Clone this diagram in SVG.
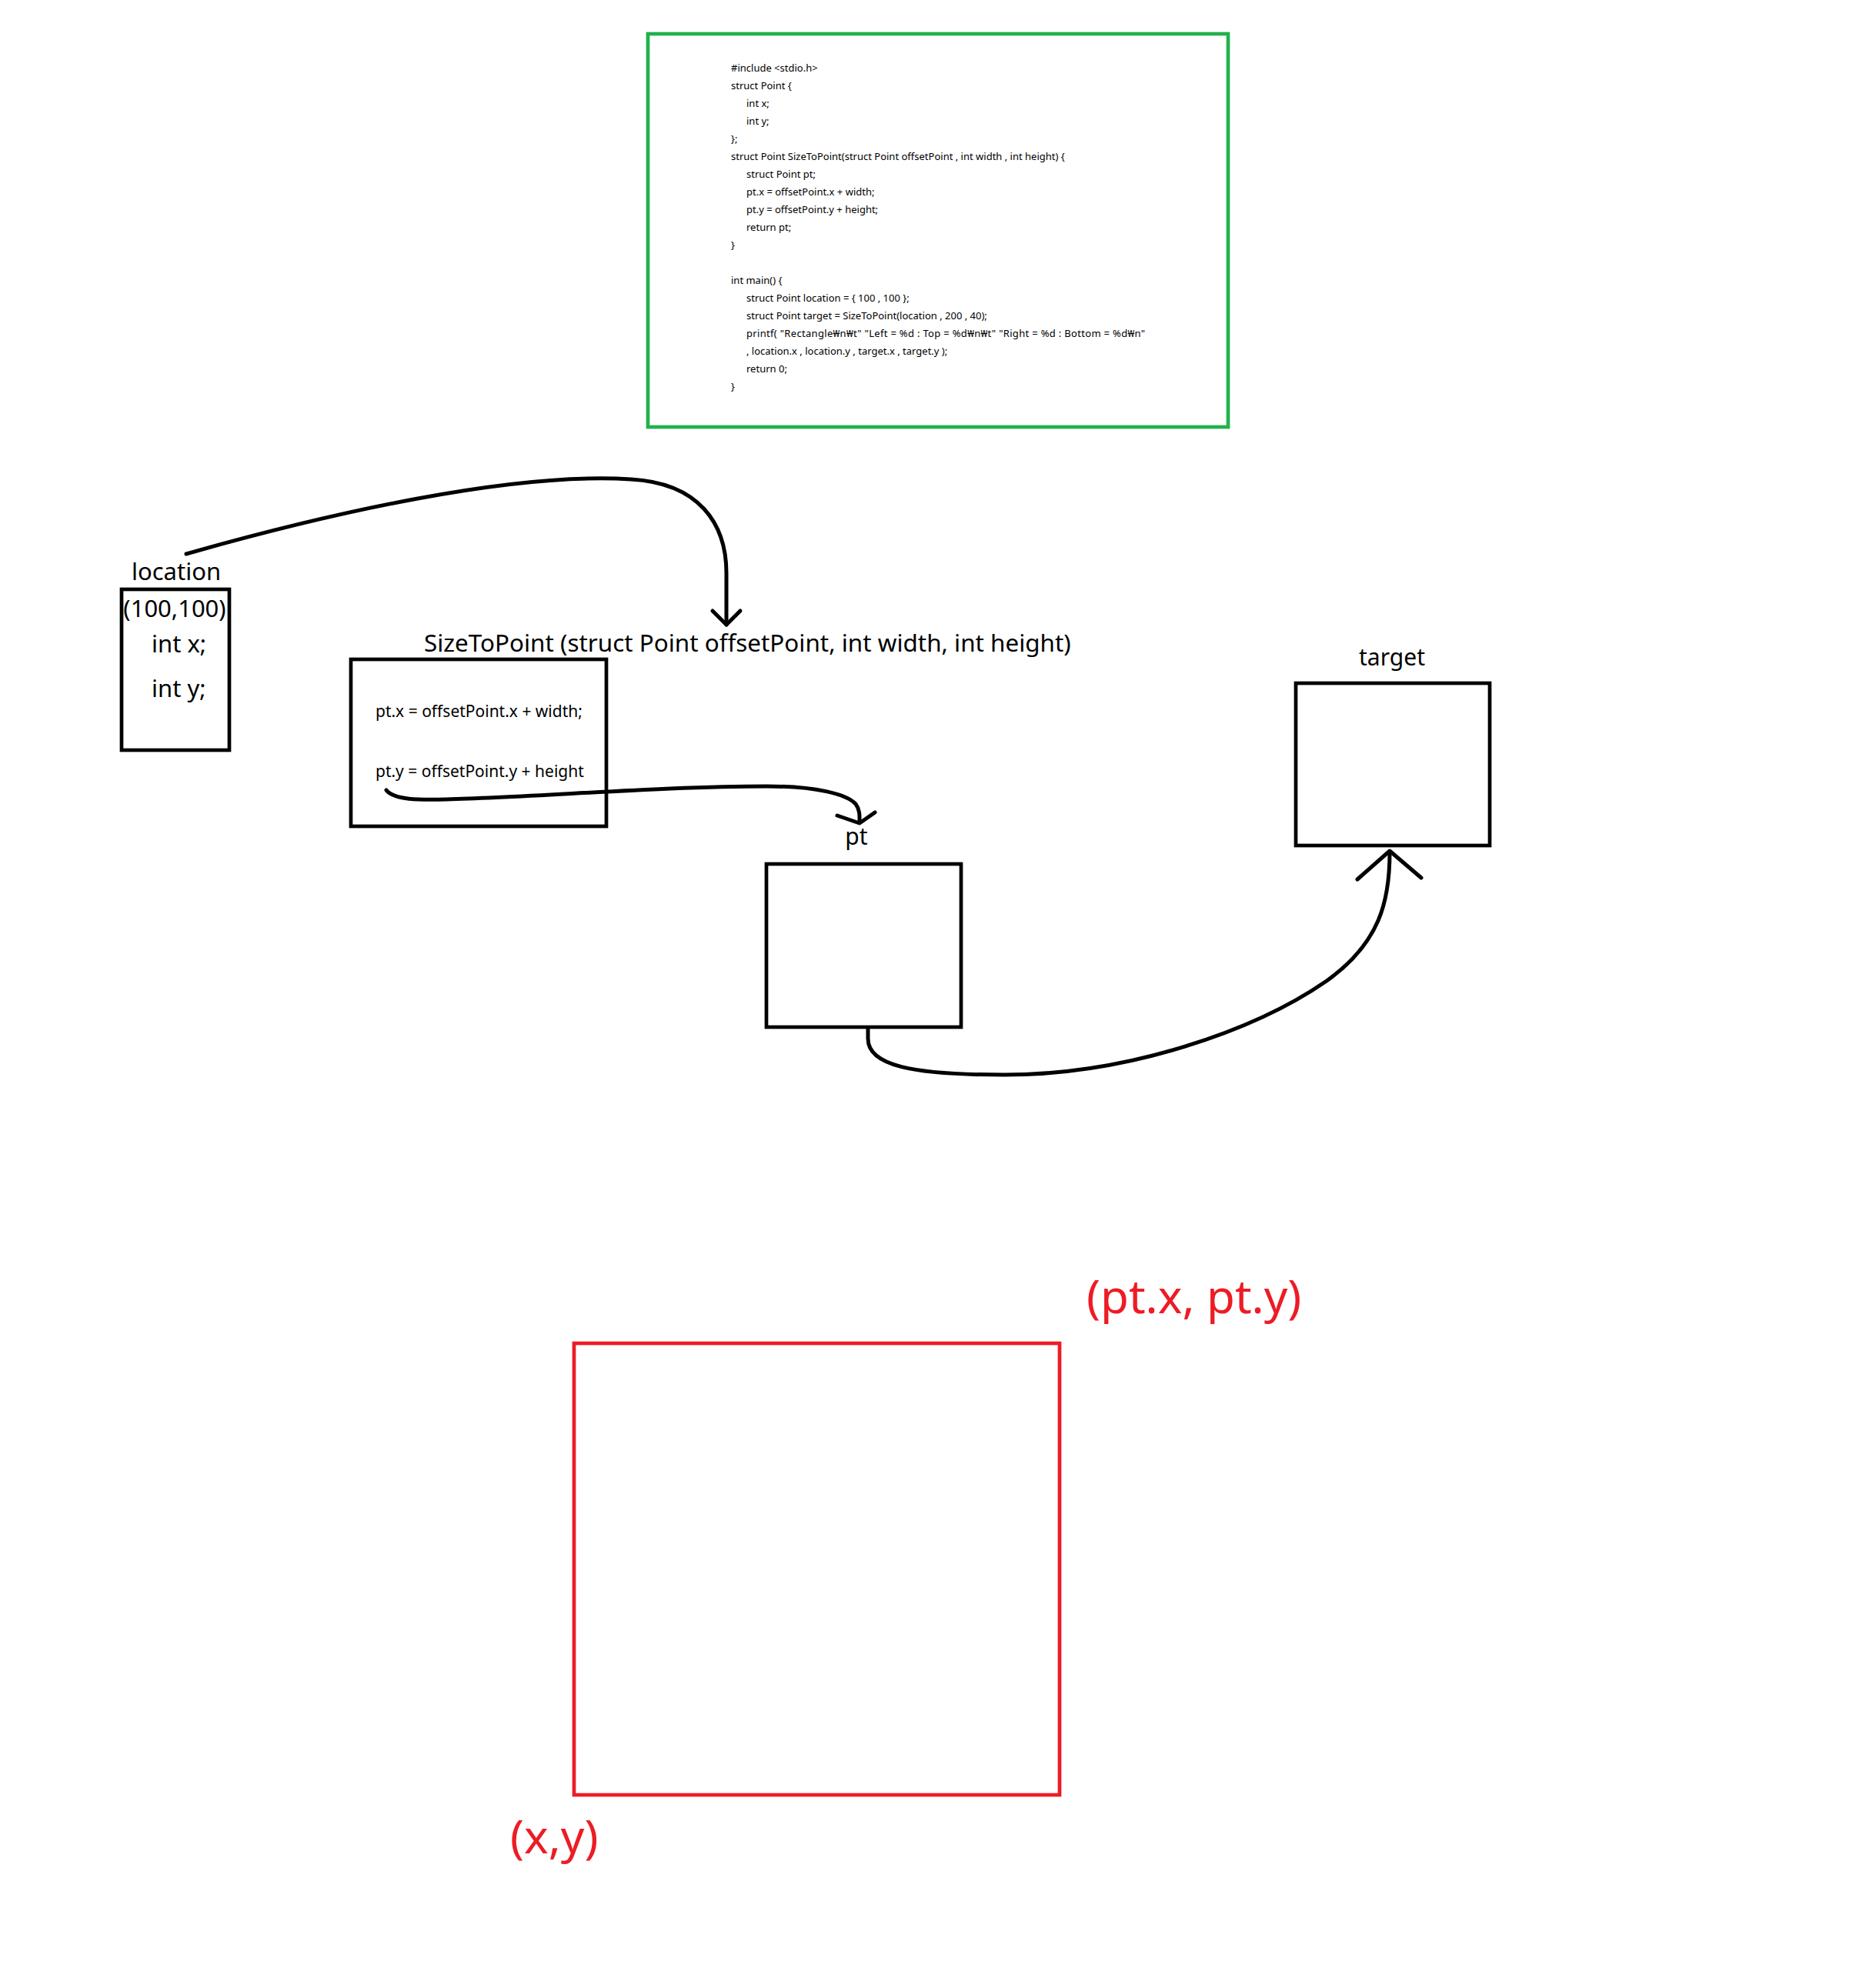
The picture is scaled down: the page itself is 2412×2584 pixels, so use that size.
<svg xmlns="http://www.w3.org/2000/svg" width="2412" height="2584" viewBox="0 0 2412 2584">
<style>
text{font-family:"Noto Sans","Noto Sans CJK KR",sans-serif;fill:#000}
.code{font-size:13px}
.lbl{font-size:31px}
.title{font-size:31.4px}
.body{font-size:21px}
.red{fill:#ed1c24;font-size:60px}
.box{fill:none;stroke:#000;stroke-width:4.7}
.conn{fill:none;stroke:#000;stroke-width:5;stroke-linecap:round;stroke-linejoin:round}
</style>
<rect width="2412" height="2584" fill="#fff"/>
<g id="code">
<rect x="842" y="44" width="754" height="511" fill="none" stroke="#22b14c" stroke-width="4.7"/>
<text class="code" x="950" y="93">#include &lt;stdio.h&gt;</text>
<text class="code" x="950" y="116">struct Point {</text>
<text class="code" x="970" y="139">int x;</text>
<text class="code" x="970" y="162">int y;</text>
<text class="code" x="950" y="185">};</text>
<text class="code" x="950" y="208">struct Point SizeToPoint(struct Point offsetPoint , int width , int height) {</text>
<text class="code" x="970" y="231">struct Point pt;</text>
<text class="code" x="970" y="254">pt.x = offsetPoint.x + width;</text>
<text class="code" x="970" y="277">pt.y = offsetPoint.y + height;</text>
<text class="code" x="970" y="300">return pt;</text>
<text class="code" x="950" y="323">}</text>
<text class="code" x="950" y="369">int main() {</text>
<text class="code" x="970" y="392">struct Point location = { 100 , 100 };</text>
<text class="code" x="970" y="415">struct Point target = SizeToPoint(location , 200 , 40);</text>
<text class="code" x="970" y="438" textLength="518" lengthAdjust="spacing">printf( "Rectangle₩n₩t" "Left = %d : Top = %d₩n₩t" "Right = %d : Bottom = %d₩n"</text>
<text class="code" x="970" y="461">, location.x , location.y , target.x , target.y );</text>
<text class="code" x="970" y="484">return 0;</text>
<text class="code" x="950" y="507">}</text>
</g>
<g id="location">
<text class="lbl" x="229" y="754" text-anchor="middle">location</text>
<rect class="box" x="158" y="766" width="140" height="209"/>
<text class="lbl" x="227" y="802" text-anchor="middle">(100,100)</text>
<text class="lbl" x="197" y="848">int x;</text>
<text class="lbl" x="197" y="906">int y;</text>
</g>
<g id="sizetopoint">
<text class="title" x="551" y="847">SizeToPoint (struct Point offsetPoint, int width, int height)</text>
<rect class="box" x="456" y="857" width="332" height="217"/>
<text class="body" x="488" y="932">pt.x = offsetPoint.x + width;</text>
<text class="body" x="488" y="1010">pt.y = offsetPoint.y + height</text>
</g>
<g id="pt">
<text class="lbl" x="1113" y="1098" text-anchor="middle" style="font-size:30px">pt</text>
<rect class="box" x="996" y="1123" width="253" height="212"/>
</g>
<g id="target">
<text class="lbl" x="1809" y="865" text-anchor="middle" style="font-size:30px">target</text>
<rect class="box" x="1684" y="888" width="252" height="211"/>
</g>
<g id="connectors">
<path class="conn" d="M242,720 C425,668 665,613 820,623 C908,628 944,680 944,745 L944,812"/>
<path class="conn" d="M926,794 L944,812 L962,794"/>
<path class="conn" d="M502,1027 C512,1040 545,1040 580,1039 C700,1036 860,1022 997,1022 C1060,1022 1100,1032 1112,1045 C1118,1053 1117,1062 1117,1069"/>
<path class="conn" d="M1088,1060 L1117,1070 L1137,1056"/>
<path class="conn" d="M1128,1337 L1128,1350 C1128,1385 1185,1397 1305,1397 C1465,1397 1630,1340 1724,1275 C1794,1225 1806,1170 1806,1108"/>
<path class="conn" d="M1764,1143 L1806,1106 L1847,1141"/>
</g>
<g id="rect-area">
<rect x="746" y="1746" width="631" height="587" fill="none" stroke="#ed1c24" stroke-width="4.7"/>
<text class="red" x="1412" y="1707">(pt.x, pt.y)</text>
<text class="red" x="663" y="2409">(x,y)</text>
</g>
</svg>
